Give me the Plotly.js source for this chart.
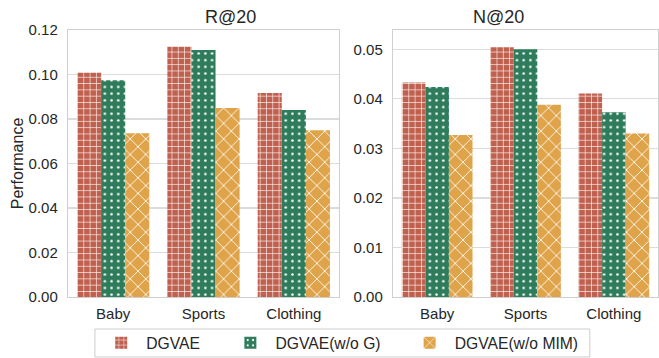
<!DOCTYPE html>
<html><head><meta charset="utf-8">
<script src="https://cdn.plot.ly/plotly-3.0.1.min.js"></script>
<style>html,body{margin:0;padding:0;background:#fff}#c{width:659px;height:358px}</style>
</head><body><div id="c"></div>
<script>
const categories = ["Baby", "Sports", "Clothing"];
const seriesNames = ["DGVAE", "DGVAE(w/o G)", "DGVAE(w/o MIM)"];
const recallDGVAE = [0.1008, 0.1125, 0.0917];
const recallNoG = [0.0974, 0.1110, 0.0840];
const recallNoMIM = [0.0736, 0.0849, 0.0749];
const ndcgDGVAE = [0.0433, 0.0504, 0.0411];
const ndcgNoG = [0.0424, 0.0500, 0.0373];
const ndcgNoMIM = [0.0327, 0.0388, 0.0330];
const leftTicks = [0, 0.02, 0.04, 0.06, 0.08, 0.10, 0.12];
const rightTicks = [0, 0.01, 0.02, 0.03, 0.04, 0.05];

const colors = ["#c0614f", "#2e7c5c", "#dfa349"];
const patterns = [{shape: "+", size: 6.3, solidity: 0.18}, {shape: ".", size: 6.7, solidity: 0.12}, {shape: "x", size: 11, solidity: 0.15}];
const legendIds = ["legend", "legend2", "legend3"];

function mk(vals, i, xa, ya, show) {
  return {
    type: "bar", x: categories, y: vals, name: seriesNames[i], xaxis: xa, yaxis: ya,
    showlegend: show, legend: legendIds[i], legendgroup: "g" + i, offsetgroup: "g" + i,
    marker: {color: colors[i], line: {width: 0},
      pattern: {shape: patterns[i].shape, size: patterns[i].size, solidity: patterns[i].solidity,
        fgcolor: "#ffffff", bgcolor: colors[i], fillmode: "replace"}},
    hoverinfo: "skip"
  };
}
const data = [
  mk(recallDGVAE, 0, "x", "y", true), mk(recallNoG, 1, "x", "y", true), mk(recallNoMIM, 2, "x", "y", true),
  mk(ndcgDGVAE, 0, "x2", "y2", false), mk(ndcgNoG, 1, "x2", "y2", false), mk(ndcgNoMIM, 2, "x2", "y2", false)
];
const font = {family: "Liberation Sans, Arial, sans-serif", color: "#262626"};
const axCommon = {showline: true, mirror: true, linecolor: "#cfcfcf", linewidth: 1.2, ticks: "", zeroline: false};
function leg(x) {
  return {orientation: "h", xref: "container", yref: "container", x: x, xanchor: "left", y: 0.042, yanchor: "middle",
    bgcolor: "rgba(0,0,0,0)", borderwidth: 0,
    font: {size: 15.7, color: "#262626", family: font.family}, itemwidth: 40};
}
const tf = {size: 15, color: "#262626", family: font.family};
const layout = {
  width: 659, height: 358, paper_bgcolor: "#fff", plot_bgcolor: "#fff",
  margin: {l: 0, r: 0, t: 30, b: 61},
  font: Object.assign({size: 15}, font),
  barmode: "group", bargap: 0.2, bargroupgap: 0,
  xaxis: Object.assign({domain: [0.1032, 0.5144], range: [-0.5, 2.5], showgrid: false, tickfont: tf, ticklabelstandoff: 3}, axCommon),
  yaxis: Object.assign({range: [0, 0.12], tickvals: leftTicks, tickformat: ".2f", showgrid: true, gridcolor: "#dcdcdc", gridwidth: 1.2,
    tickfont: tf, ticklabelstandoff: 6, title: {text: "Performance", font: {size: 16, color: "#262626"}, standoff: 1}}, axCommon),
  xaxis2: Object.assign({domain: [0.5964, 0.9985], range: [-0.5, 2.5], anchor: "y2", showgrid: false, tickfont: tf, ticklabelstandoff: 3}, axCommon),
  yaxis2: Object.assign({anchor: "x2", range: [0, 0.0539], tickvals: rightTicks, tickformat: ".2f", showgrid: true, gridcolor: "#dcdcdc", gridwidth: 1.2,
    tickfont: tf, ticklabelstandoff: 6}, axCommon),
  annotations: [
    {text: "R@20", xref: "paper", yref: "paper", x: 0.3088, y: 1, yanchor: "bottom", yshift: 1, showarrow: false, font: {size: 18, color: "#262626"}},
    {text: "N@20", xref: "paper", yref: "paper", x: 0.7975, y: 1, yanchor: "bottom", yshift: 1, showarrow: false, font: {size: 18, color: "#262626"}}
  ],
  shapes: [
    {type: "rect", xref: "paper", yref: "paper", x0: 0.144, x1: 0.895, y0: -0.2247, y1: -0.1199,
      line: {color: "#cccccc", width: 1}, fillcolor: "rgba(0,0,0,0)", layer: "below"}
  ],
  legend: leg(0.146),
  legend2: leg(0.342),
  legend3: leg(0.614)
};
Plotly.newPlot("c", data, layout, {staticPlot: true, displayModeBar: false});
</script></body></html>
